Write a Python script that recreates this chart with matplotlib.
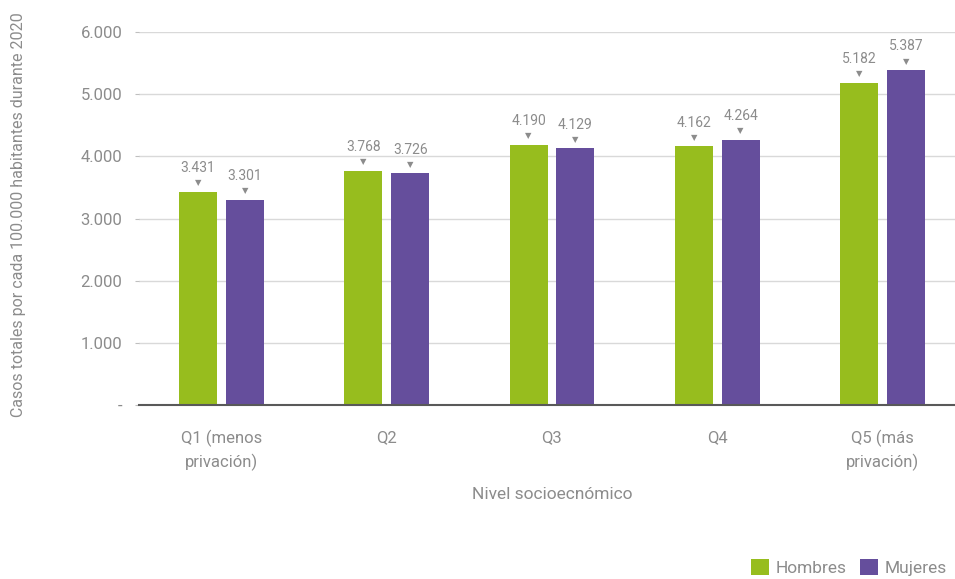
import numpy as np
import matplotlib.pyplot as plt
from matplotlib.ticker import FuncFormatter

categorias = ['Q1 (menos\nprivación)', 'Q2', 'Q3', 'Q4', 'Q5 (más\nprivación)']
hombres = [3431, 3768, 4190, 4162, 5182]
mujeres = [3301, 3726, 4129, 4264, 5387]

verde = '#97bd1e'
morado = '#654e9c'
gris = '#8c8c8c'

plt.rcParams['font.family'] = ['Roboto', 'DejaVu Sans']

fig = plt.figure(figsize=(9.55, 5.79), dpi=100)
ax = fig.add_axes([0.1455, 0.3005, 0.865, 0.6442])

x = np.arange(len(categorias))
w = 0.23
off = 0.142
b1 = ax.bar(x - off, hombres, w, color=verde, label='Hombres', zorder=3)
b2 = ax.bar(x + off, mujeres, w, color=morado, label='Mujeres', zorder=3)

def fmt(v, pos=None):
    if v == 0:
        return '-'
    return f'{v:,.0f}'.replace(',', '.')

for xs, vals in [(x - off, hombres), (x + off, mujeres)]:
    for xi, v in zip(xs, vals):
        ax.annotate('▼', (xi, v), xytext=(0, 4), textcoords='offset points',
                    ha='center', va='bottom', fontsize=6, color=gris)
        ax.annotate(fmt(v), (xi, v), xytext=(0, 12), textcoords='offset points',
                    ha='center', va='bottom', fontsize=10, color=gris)

ax.set_ylim(0, 6000)
ax.set_xlim(-0.5, len(categorias) - 0.5)
ax.set_yticks(np.arange(0, 6001, 1000))
ax.yaxis.set_major_formatter(FuncFormatter(fmt))
ax.set_xticks(x)
ax.set_xticklabels(categorias, linespacing=1.45)
ax.grid(axis='y', color='#d9d9d9', linewidth=1, zorder=0)
for s in ['top', 'right', 'left']:
    ax.spines[s].set_visible(False)
ax.spines['bottom'].set_color('#595959')
ax.spines['bottom'].set_linewidth(1.5)
ax.spines['bottom'].set_zorder(4)
ax.tick_params(axis='y', length=3, color='#bfbfbf', labelcolor=gris, labelsize=12, pad=9)
ax.tick_params(axis='x', length=0, labelcolor=gris, labelsize=12, pad=18)

ax.set_xlabel('Nivel socioecnómico', color=gris, fontsize=12.5, labelpad=12)
fig.text(0.019, 0.63, 'Casos totales por cada 100.000 habitantes durante 2020',
         rotation=90, ha='center', va='center', color=gris, fontsize=11.5)

fig.legend(handles=[b1, b2], loc='lower right', bbox_to_anchor=(1.008, -0.022),
           ncol=2, frameon=False, fontsize=12.5, labelcolor=gris,
           handlelength=1.0, handleheight=1.0, columnspacing=0.8, handletextpad=0.4)

fig.savefig('out.png', dpi=100)
